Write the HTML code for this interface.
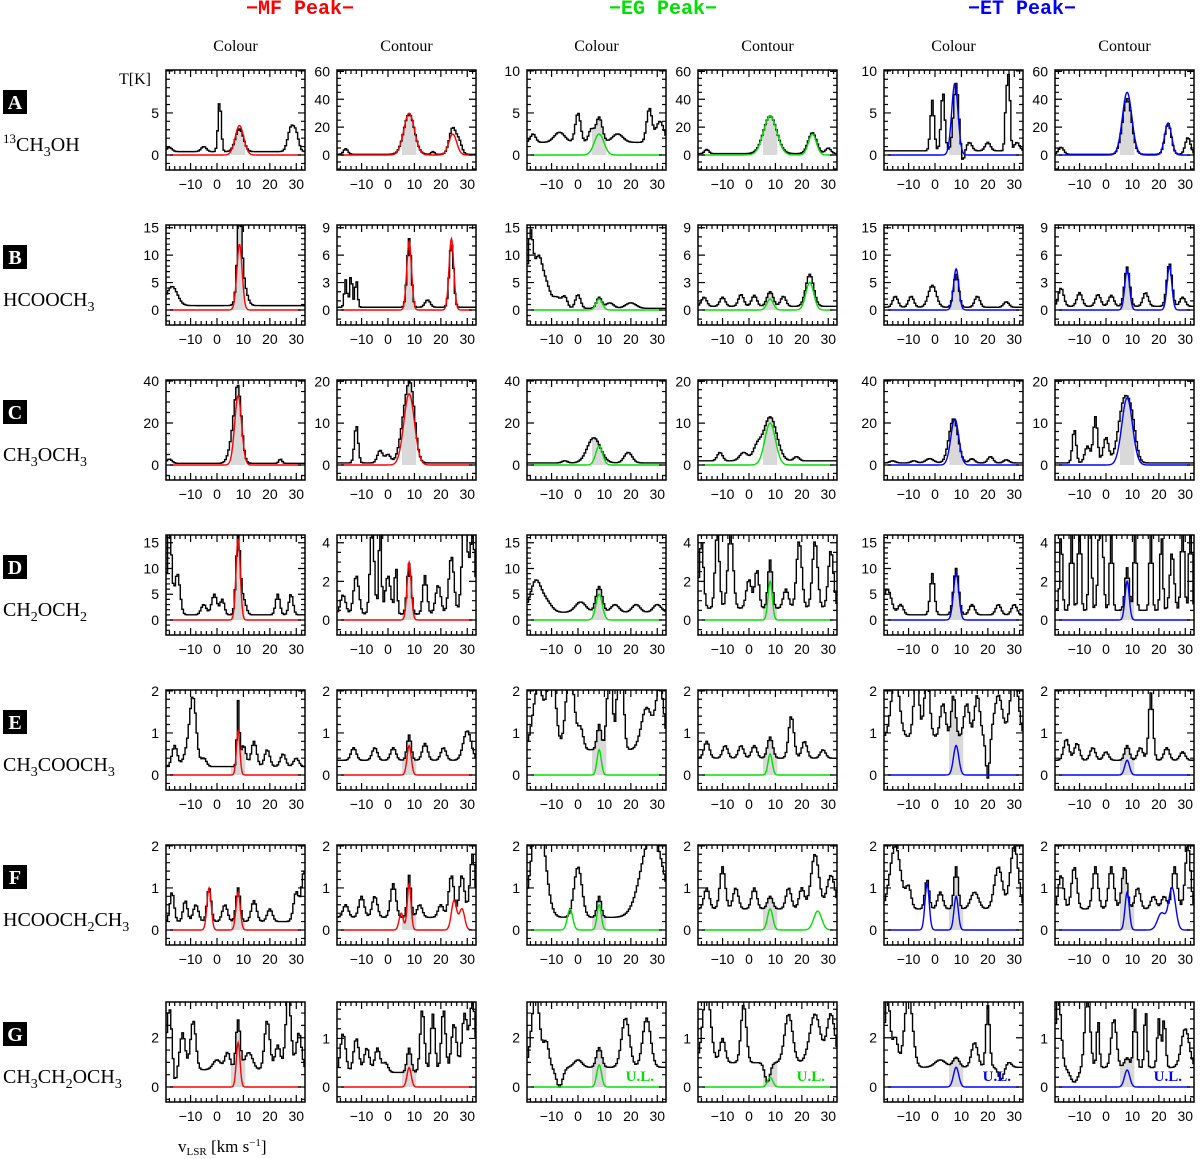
<!DOCTYPE html>
<html><head><meta charset="utf-8"><style>
body{margin:0;background:#fff;}
svg{display:block;font-family:"Liberation Sans",sans-serif;}
.tl{font-size:14px;fill:#000;}
.sub{font-family:"Liberation Serif",serif;font-size:16px;}
.hd{font-family:"Liberation Mono",monospace;font-weight:bold;font-size:20px;}
.mol{font-family:"Liberation Serif",serif;font-size:20px;}
</style></head><body>
<svg id="fig" width="1200" height="1159" viewBox="0 0 1200 1159">
<text class="hd" x="300" y="14" text-anchor="middle" fill="#ff0000">−MF Peak−</text>
<text class="hd" x="663" y="14" text-anchor="middle" fill="#00e000">−EG Peak−</text>
<text class="hd" x="1022" y="14" text-anchor="middle" fill="#0000ff">−ET Peak−</text>
<text x="119" y="84" style="font-family:'Liberation Serif',serif;font-size:16px">T[K]</text>
<text x="178" y="1152" style="font-family:'Liberation Serif',serif;font-size:17px">v<tspan font-size="11" dy="3">LSR</tspan><tspan dy="-3"> [km s</tspan><tspan font-size="11" dy="-6">−1</tspan><tspan dy="6">]</tspan></text>
<g id="panels"></g>
</svg>
<script>
const colX=[166,337,527,698,884,1055];
const rowY=[70,225,380,535,690,845,1002];
const rowLetters=["A","B","C","D","E","F","G"];
const molHTML=['<tspan font-size="13" dy="-8">13</tspan><tspan dy="8">CH</tspan><tspan font-size="14" dy="5">3</tspan><tspan dy="-5">OH</tspan>',
'HCOOCH<tspan font-size="14" dy="5">3</tspan>',
'CH<tspan font-size="14" dy="5">3</tspan><tspan dy="-5">OCH</tspan><tspan font-size="14" dy="5">3</tspan>',
'CH<tspan font-size="14" dy="5">2</tspan><tspan dy="-5">OCH</tspan><tspan font-size="14" dy="5">2</tspan>',
'CH<tspan font-size="14" dy="5">3</tspan><tspan dy="-5">COOCH</tspan><tspan font-size="14" dy="5">3</tspan>',
'HCOOCH<tspan font-size="14" dy="5">2</tspan><tspan dy="-5">CH</tspan><tspan font-size="14" dy="5">3</tspan>',
'CH<tspan font-size="14" dy="5">3</tspan><tspan dy="-5">CH</tspan><tspan font-size="14" dy="5">2</tspan><tspan dy="-5">OCH</tspan><tspan font-size="14" dy="5">3</tspan>'];
const colSub=["Colour","Contour","Colour","Contour","Colour","Contour"];
const modelColors=["#ff0000","#ff0000","#00e000","#00e000","#0000ff","#0000ff"];
const xTicks=[-10,0,10,20,30];
const yMax=[[10.1,61,10.1,61,10.1,61],[15.5,9.3,15.5,9.3,15.5,9.3],[40.5,20.3,40.5,20.3,40.5,20.3],[16.5,4.4,16.5,4.4,16.5,4.4],[2.02,2.02,2.02,2.02,2.02,2.02],[2.02,2.02,2.02,2.02,2.02,2.02],[3.45,1.75,3.45,1.75,3.45,1.75]];
const yStep=[[5,20,5,20,5,20],[5,3,5,3,5,3],[20,10,20,10,20,10],[5,2,5,2,5,2],[1,1,1,1,1,1],[1,1,1,1,1,1],[2,1,2,1,2,1]];
const obsBase=[[0.4,0.5,1.5,1,0.5,0.5],[0.8,0.3,0.3,0.4,0.5,0.4],[0.8,0.5,1,1,1,0.5],[1,0.3,1.5,0.6,1,0.5],[0.2,0.35,0.6,0.4,0.9,0.35],[0.2,0.3,0.3,0.5,0.5,0.5],[0.7,0.3,0.8,0.5,0.8,0.4]];
const obsComps=[
[[[1,6,0.6],[-5,0.6,1],[8.5,2.7,1.5],[28,2.8,1.2],[30,1.8,1],[-18,0.5,1]],
 [[-16,4,0.8],[8,29,2],[17,2,0.6],[24.5,19,1.3],[27,8,1]],
 [[-7,1.2,2],[0,3.5,1],[8,3.0,1.2],[5,1.5,1],[15,1,2],[27,4,1],[31,2.5,1.5],[-17,1,1]],
 [[8,27,2.5],[-16,3,0.8],[24,15,1.6],[30,4,1]],
 [[-1,6,0.7],[3,7,0.7],[8,8,1],[13,1,1],[20,1,1],[27,6,0.5],[28,8,0.5],[31,1,1],[10.5,-1.5,0.6]],
 [[8,40,1.7],[-17,5,1],[23.5,22,1.2],[31,12,1]]],
[[[-17,3.5,2],[8.5,14,0.8],[9.5,5,1.5]],
 [[-16,3,0.5],[-14,3.5,0.5],[-12,3,0.5],[8,7.5,0.8],[24,7,0.8],[15,0.8,1]],
 [[-18,13,1],[-15,9,1.5],[-12,4,1.5],[-8,2,1.5],[-5,2,1],[0,2.5,1],[8,2,1],[12,1,1.5],[20,1,2]],
 [[-17,1,1],[-10,1,1],[-3,1.3,1],[2,1.2,1],[8,1.6,1.2],[13,1.1,1],[23,3.5,1.5]],
 [[-15,2,1],[-9,2,1],[-1,4,1.5],[8,6,1],[16,2,1],[27,1,1]],
 [[-17,2,1],[-10,1.5,1],[-3,1.3,1],[2,1.2,1],[8,4.3,1],[15,1.5,1],[24,4.7,1],[29,1,1]]],
[[[-18,2,1],[8,33,1.3],[6,10,1.5],[24,2,0.6]],
 [[-12,9,0.7],[-3,3,1],[7,13,2],[9,10,1.5],[0,2,1]],
 [[6,12,2.5],[19,5,1.5],[-5,1,1]],
 [[-11,2,1],[-2,2,1.5],[3,3,1.5],[8,10.5,2.5],[18,1,1]],
 [[-16,1,1],[-8,1,1],[-2,2,1.5],[7,21,1.7],[14,2,1],[21,3,1],[27,1.5,1]],
 [[-12,8,0.7],[-4,11,0.8],[-7,4,1],[0,6,1],[7,15,2.2],[10,6,1.5]]],
[[[-18,18,0.8],[-15,8,1],[-1,4,1],[2,3,0.8],[8,15,0.8],[10,3,1],[23,4,0.8],[28,4,0.8],[-5,2,1]],
 [[-12,2,1],[-6,4.5,0.8],[-3,4.5,0.5],[0,2,1],[3,2.5,0.5],[8,2.6,0.8],[14,2,0.8],[19,1.5,1],[24,3,1],[29,5,1],[32,4,1],[-17,1,1]],
 [[-16,6,2],[-12,2,2],[1,2,2],[8,5,1.2],[14,1.5,1.5],[22,1.5,1.5],[30,1.5,1.5]],
 [[-18,3.5,0.8],[-12,4,0.8],[-7,4,1],[0,1.5,1],[3,2,0.8],[8,2.5,0.8],[14,1,1],[19,3.5,1],[25,3.5,1],[31,3,1]],
 [[-18,5,1.5],[-13,2,1],[-1,8,0.8],[8,9,1],[14,2,1],[24,2,1],[30,2,1]],
 [[-17,4,0.5],[-13,5,0.5],[-10,6,0.5],[-6,6,0.5],[-2,6,0.8],[2,5,0.5],[8,2.2,0.8],[11,5,0.5],[17,5,0.5],[21,4,0.5],[25,3,0.8],[29,5,0.6],[32,6,0.5]]],
[[[-16,0.5,1],[-9,1.5,1.2],[-11,0.4,1.5],[-5,0.2,1],[8,1.5,0.45],[10,0.5,1],[14,0.6,1],[19,0.4,1],[25,0.3,1],[30,0.2,1]],
 [[-13,0.3,1],[-5,0.3,1],[2,0.3,1],[8,0.6,0.8],[14,0.4,1],[21,0.3,1],[30,0.7,1.5]],
 [[-15,1.5,2],[-10,2,1.5],[-3,2,1.5],[1,0.5,1],[8,0.6,0.8],[12,2,1],[16,3,1],[26,1,2],[31,1.5,1.5]],
 [[-16,0.4,1],[-9,0.3,1],[-3,0.3,1],[2,0.3,1],[8,0.5,1],[16,1,1],[21,0.4,1],[28,0.2,1]],
 [[-15,1.5,1.5],[-7,1.5,1],[-3,1.5,1],[3,0.8,1],[7,1,0.8],[12,0.8,1],[16,1,1],[24,1,1.5],[30,1.5,1.5],[20,-1,0.7]],
 [[-15,0.5,1],[-11,0.4,1],[-5,0.3,1],[0,0.2,1],[8,0.35,0.9],[13,0.3,1],[17,1.6,0.8],[23,0.3,1],[29,0.2,1]]],
[[[-17,0.7,0.8],[-12,0.5,0.8],[-8,0.4,1],[-3,0.8,0.8],[3,0.4,1],[8,0.8,0.8],[14,0.5,1],[20,0.3,1],[30,0.7,1],[33,1.2,1]],
 [[-16,0.3,1],[-10,0.5,1],[-5,0.5,1],[2,0.8,1],[8,1,0.7],[12,0.3,1],[20,0.3,1],[24,1,1],[28,1,1],[32,1.5,1]],
 [[-15,2.5,2.5],[0,1.2,1.5],[8,0.5,0.8],[28,2,4]],
 [[-16,0.5,1],[-10,1,1],[-5,0.5,1],[2,0.5,1],[8,0.3,1],[15,0.5,1],[20,0.5,1],[25,1.3,1.5],[31,0.8,1.5]],
 [[-15,1.5,2],[-10,0.5,1],[-3,0.7,0.8],[2,0.4,1],[8,1,0.8],[15,0.4,1.5],[24,1,1.5],[30,1.5,1.5]],
 [[-17,0.8,1],[-12,1,1],[-4,1,1],[2,1,1],[7,1,1],[12,0.5,1],[18,0.3,1],[22,0.3,1],[26,1,1],[31,1.5,1]]],
[[[-18,2.5,1],[-13,1.5,1],[-9,2,1],[0,0.4,1.5],[4,0.7,1],[8,2,0.8],[12,0.7,1.5],[19,2,1],[23,1,1],[27,3,1],[31,1.5,1],[-16,-0.7,0.7]],
 [[-17,0.8,1],[-12,0.7,1],[-8,0.5,1],[-4,0.5,1],[-1,0.2,1],[8,0.5,0.8],[13,1.3,0.8],[17,1.2,0.8],[21,1.3,0.8],[25,1,1],[29,1.2,1],[32,1.5,1]],
 [[-16,3,1.5],[-12,1,1],[-7,-0.8,1.2],[0,0.3,1.5],[8,0.8,1],[18,2,1.5],[26,2,1.5]],
 [[-16,1.5,1.5],[-10,0.5,1],[-2,1.2,1],[7,-0.4,1],[15,1,1.5],[25,1,2],[31,1,1.5]],
 [[-18,3,1],[-15,1.2,1],[-10,3,1.5],[2,0.3,2],[8,0.4,1.2],[15,1,1.2],[20,2.5,0.7],[25,-0.5,1],[28,0.2,1]],
 [[-18,1.5,1],[-12,-0.3,1.5],[-7,1.5,1],[-3,1,0.5],[3,1,1],[8,0.2,1],[11,1.2,0.6],[15,1.2,0.5],[20,1,0.6],[22,1,0.6],[30,0.8,1.5]]]];
const modelComps=[
[[[8.5,3.5,1.6]],[[8,30,2],[24.5,15,1.5]],[[8,2.5,1.8]],[[8,28,2.5],[24,15,1.5]],[[7.5,8.5,1.2]],[[8,45,1.8],[23.5,23,1.3]]],
[[[8.5,12,1]],[[8,7.5,0.9],[24,7.8,0.9]],[[8,2,1.2]],[[8,1.2,1.2],[23,3,1.5]],[[8,7.5,1]],[[8,4.4,0.9],[24,4.8,0.9]]],
[[[8,33,1.3]],[[8,17,2]],[[8,9,1.3]],[[8,10,2]],[[7.5,22,1.5]],[[8,16,2]]],
[[[8,16,0.8]],[[8,3,0.8]],[[8,5,1.2]],[[8,2,0.8]],[[8,9,1]],[[8,2,0.8]]],
[[[8,1.05,0.65]],[[8,0.7,0.8]],[[8,0.6,0.8]],[[8,0.5,0.8]],[[8,0.7,1]],[[8,0.35,0.9]]],
[[[-3,1,0.8],[8,0.9,0.8]],[[5,0.4,0.8],[8,1.1,0.7],[25,0.7,1],[28,0.5,1]],[[-3,0.5,1],[8,0.6,0.8]],[[8,0.5,1],[26,0.45,1.5]],[[-3,1.1,0.8],[8,0.8,0.8]],[[8,0.9,0.8],[21,0.4,1.5],[25,1,1.3]]],
[[[8,1.8,0.7]],[[8,0.4,0.8]],[[8,0.9,0.9]],[[8,0.2,1]],[[8,0.8,1]],[[8,0.35,1]]]];
const upperLimit=[[0,0,0,0,0,0],[0,0,0,0,0,0],[0,0,0,0,0,0],[0,0,0,0,0,0],[0,0,0,0,0,0],[0,0,0,0,0,0],[0,0,1,1,1,1]];

const NS="http://www.w3.org/2000/svg";
const W=139,H=100,ZERO=85,XMIN=-19.3,XMAX=33.3,CH=0.6;
function mk(tag,attrs,parent){const e=document.createElementNS(NS,tag);for(const k in attrs)e.setAttribute(k,attrs[k]);parent.appendChild(e);return e;}
function gsum(comps,base,v){let s=base;for(const c of comps)s+=c[1]*Math.exp(-0.5*((v-c[0])/c[2])**2);return s;}
const root=document.getElementById('panels');
for(let r=0;r<7;r++){
  const lg=mk('g',{},root);
  
  
  const y0=rowY[r];
  mk('rect',{x:3,y:y0+20,width:24,height:24,fill:'#000'},lg);
  const lt=mk('text',{x:15,y:y0+39,'text-anchor':'middle',fill:'#fff',class:'mol','font-weight':'bold','font-size':'18'},lg);
  lt.textContent=rowLetters[r];
  const mt=mk('text',{x:3,y:y0+81,class:'mol'},lg);
  
  
  mt.innerHTML=molHTML[r];
  for(let c=0;c<6;c++){
    const x0=colX[c], ym=yMax[r][c], st=yStep[r][c];
    const xs=v=>x0+(v-XMIN)/(XMAX-XMIN)*W;
    const ys=t=>y0+ZERO-t/ym*ZERO;
    const g=mk('g',{},root);
    
    
    if(r===0){const s=mk('text',{x:x0+W/2,y:51,'text-anchor':'middle',class:'sub'},g);s.textContent=colSub[c];
      }
    const cid='clip'+r+'_'+c;
    const cp=mk('clipPath',{id:cid},g);mk('rect',{x:x0,y:y0,width:W,height:H},cp);
    const inner=mk('g',{'clip-path':'url(#'+cid+')'},g);
    const base=obsBase[r][c], comps=obsComps[r][c];
    let fd='';
    for(let v=XMIN;v<XMAX;v+=CH){const vc=v+CH/2;if(vc>=5.3&&vc<=10.7){const t=gsum(comps,base,vc);const yy=ys(t),yz=ys(0);fd+=`M${xs(v)},${yz}H${xs(v+CH)}V${yy}H${xs(v)}Z`;}}
    const fp=mk('path',{d:fd,fill:'#d9d9d9',stroke:'none'},inner);
    
    let d='';
    for(let v=XMIN;v<XMAX;v+=CH){const t=gsum(comps,base,v+CH/2);const yy=ys(t);d+=(d?'L':'M')+xs(v)+','+yy+'H'+xs(v+CH);}
    const op=mk('path',{d:d,fill:'none',stroke:'#000','stroke-width':1.4},inner);
    
    let md='';
    for(let v=XMIN+1.5;v<=XMAX-1.5;v+=0.2){const t=gsum(modelComps[r][c],0,v);md+=(md?'L':'M')+xs(v).toFixed(2)+','+ys(t).toFixed(2);}
    const mp=mk('path',{d:md,fill:'none',stroke:modelColors[c],'stroke-width':1.4},inner);
    
    mk('rect',{x:x0,y:y0,width:W,height:H,fill:'none',stroke:'#000','stroke-width':1.5},g);
    let td='';
    for(let v=-18;v<=32;v+=2){const X=xs(v);const L=(v%10===0)?7:4;td+=`M${X},${y0+H}v${-L}M${X},${y0}v${L}`;}
    const mn=st/((st===2||st===20||st===4)?4:(st===3?3:5));
    for(let t=Math.ceil((-0.18*ym)/mn)*mn;t<=ym+1e-9;t+=mn){const Y=ys(t);if(Y<y0||Y>y0+H)continue;const maj=Math.abs(t/st-Math.round(t/st))<1e-6;const L=maj?7:4;td+=`M${x0},${Y}h${L}M${x0+W},${Y}h${-L}`;}
    mk('path',{d:td,stroke:'#000','stroke-width':1.2,fill:'none'},g);
    for(const v of xTicks){const tt=mk('text',{x:xs(v),y:y0+H+19,'text-anchor':'middle',class:'tl'},g);tt.textContent=v<0?'−'+(-v):v;
      }
    for(let t=0;t<=ym+1e-6;t+=st){
      if(r===0&&c===0&&t>=10)continue;
      const tt=mk('text',{x:x0-7,y:ys(t)+5,'text-anchor':'end',class:'tl'},g);tt.textContent=t;
      }
    if(upperLimit[r][c]){const u=mk('text',{x:x0+W-12,y:ys(0)-6,'text-anchor':'end',fill:modelColors[c],'font-family':'Liberation Serif,serif','font-weight':'bold','font-size':'15'},g);u.textContent='U.L.';
      }
  }
}
</script>
</body></html>
